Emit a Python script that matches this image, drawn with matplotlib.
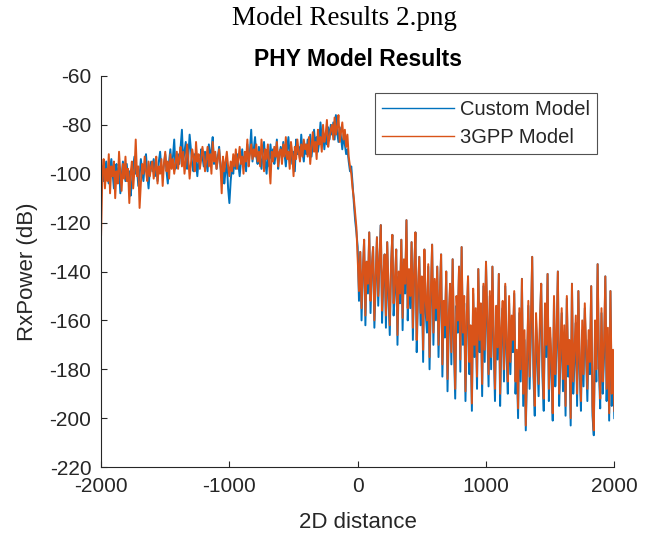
import numpy as np
import matplotlib
matplotlib.use('Agg')
import matplotlib.pyplot as plt

# distance grid (m), one sample every 10 m
distance = np.arange(-2000, 2001, 10)

# Custom model RxPower (dB)
custom_left = [
    -100, -97, -103, -99, -95, -101, -104, -98, -94, -100, -106, -99, -96, -102, -97, -108, -101, -95, -99, -103,
    -96, -102, -99, -109, -104, -97, -93, -100, -98, -105, -101, -94, -99, -103, -96, -92, -100, -106, -98, -95,
    -99, -94, -101, -97, -103, -95, -91, -98, -100, -96, -92, -99, -104, -95, -90, -97, -93, -86, -98, -94,
    -92, -96, -89, -82, -95, -91, -87, -98, -93, -84, -90, -96, -99, -92, -95, -101, -94, -97, -90, -93,
    -97, -91, -95, -99, -88, -94, -90, -85, -96, -92, -98, -93, -89, -97, -101, -94, -104, -99, -95, -106,
    -112, -103, -97, -100, -94, -98, -92, -96, -101, -95, -90, -97, -93, -99, -88, -94, -91, -82, -95, -90,
    -85, -93, -96, -89, -94, -98, -91, -87, -95, -100, -92, -97, -88, -94, -90, -96, -93, -86, -98, -92,
    -89, -94, -87, -92, -97, -90, -85, -93, -88, -96, -91, -99, -86, -92, -89, -94, -84, -91, -95, -88,
    -92, -86, -90, -84, -93, -88, -82, -89, -85, -91, -87, -79, -86, -83, -90, -84, -88, -81, -86, -80,
    -84, -79, -86, -76, -83, -87, -81, -85, -90, -84, -88, -92, -90, -95, -99, -97, -104, -112, -119, -124]
custom_zero = [-130]
custom_right = [
    -152, -132, -160, -141, -127, -162, -136, -149, -124, -157, -139, -130, -163, -145, -126, -154, -135, -121, -161, -144,
    -133, -163, -128, -151, -166, -138, -125, -158, -148, -131, -170, -142, -153, -127, -164, -136, -149, -119, -160, -141,
    -155, -128, -168, -141, -124, -173, -150, -134, -162, -144, -177, -131, -157, -165, -138, -180, -153, -129, -170, -146,
    -160, -138, -175, -152, -133, -183, -156, -167, -140, -189, -163, -146, -178, -135, -171, -192, -154, -165, -138, -181,
    -130, -170, -153, -193, -163, -142, -182, -167, -197, -149, -175, -158, -188, -139, -173, -156, -191, -146, -177, -136,
    -164, -187, -150, -180, -138, -171, -193, -157, -176, -141, -195, -168, -155, -185, -146, -174, -190, -153, -182, -162,
    -173, -149, -190, -177, -200, -157, -185, -143, -195, -168, -205, -180, -154, -188, -165, -134, -183, -199, -160, -175,
    -191, -164, -145, -183, -197, -155, -175, -141, -193, -167, -181, -201, -151, -187, -171, -140, -195, -177, -157, -189,
    -166, -199, -151, -183, -173, -203, -145, -190, -177, -161, -195, -148, -181, -197, -164, -187, -155, -175, -193, -168,
    -182, -146, -199, -207, -164, -185, -137, -180, -196, -157, -190, -175, -142, -193, -167, -201, -148, -195, -177, -200]

# 3GPP model RxPower (dB)
gpp_left = [
    -125, -100, -94, -106, -98, -103, -92, -108, -97, -101, -95, -110, -99, -104, -91, -100, -107, -96, -102, -93,
    -103, -98, -112, -100, -95, -106, -99, -86, -101, -97, -114, -104, -96, -100, -93, -99, -103, -95, -101, -97,
    -95, -102, -98, -93, -104, -97, -100, -94, -105, -96, -91, -99, -95, -102, -92, -98, -94, -100, -96, -91,
    -98, -93, -89, -97, -91, -100, -95, -88, -94, -102, -96, -90, -93, -99, -87, -95, -92, -98, -94, -89,
    -93, -99, -94, -89, -97, -92, -100, -87, -95, -91, -98, -94, -90, -96, -108, -93, -99, -95, -91, -97,
    -101, -95, -99, -92, -97, -90, -98, -94, -89, -96, -93, -100, -91, -95, -86, -97, -92, -88, -94, -90,
    -93, -88, -95, -91, -97, -86, -92, -99, -90, -94, -88, -96, -104, -91, -95, -89, -93, -87, -97, -91,
    -90, -96, -88, -93, -85, -94, -91, -98, -87, -92, -101, -89, -94, -86, -91, -95, -88, -93, -86, -90,
    -88, -93, -85, -96, -89, -83, -91, -87, -94, -82, -88, -85, -91, -80, -87, -84, -78, -89, -85, -82,
    -80, -86, -77, -84, -81, -76, -87, -83, -79, -86, -82, -89, -84, -93, -97, -100, -106, -110, -116, -122]
gpp_zero = [-135]
gpp_right = [
    -148, -132, -155, -140, -127, -158, -136, -145, -124, -152, -138, -130, -160, -142, -126, -150, -135, -121, -156, -141,
    -133, -158, -128, -147, -162, -137, -125, -153, -144, -131, -166, -140, -149, -127, -159, -135, -145, -119, -155, -139,
    -150, -128, -163, -140, -124, -168, -146, -134, -157, -142, -172, -131, -152, -160, -137, -175, -148, -129, -165, -143,
    -155, -138, -170, -149, -133, -178, -152, -162, -140, -184, -158, -145, -173, -135, -166, -188, -150, -160, -138, -176,
    -130, -165, -150, -189, -158, -142, -177, -162, -194, -147, -170, -155, -183, -139, -168, -153, -186, -145, -172, -136,
    -160, -182, -148, -175, -138, -166, -188, -154, -171, -141, -190, -163, -152, -180, -145, -169, -185, -150, -177, -158,
    -168, -148, -185, -172, -196, -155, -180, -143, -190, -164, -203, -175, -152, -183, -160, -134, -178, -195, -157, -170,
    -186, -160, -145, -178, -192, -153, -170, -141, -188, -163, -176, -198, -150, -182, -166, -140, -190, -172, -155, -184,
    -162, -195, -150, -178, -168, -200, -145, -185, -172, -158, -190, -148, -176, -193, -160, -182, -153, -170, -188, -164,
    -177, -146, -195, -205, -160, -180, -137, -175, -192, -155, -185, -170, -142, -188, -163, -198, -148, -190, -172, -197]

custom = custom_left + custom_zero + custom_right
gpp = gpp_left + gpp_zero + gpp_right

plt.rcParams['font.family'] = ['Liberation Sans', 'DejaVu Sans']
plt.rcParams['axes.unicode_minus'] = False
dark = '#262626'

fig = plt.figure(figsize=(6.48, 5.35), dpi=100)
ax = fig.add_axes([0.156, 0.127, 0.792, 0.731])

ax.plot(distance, custom, color='#0072BD', lw=1.4, label='Custom Model')
ax.plot(distance, gpp, color='#D95319', lw=1.4, label='3GPP Model')

ax.set_xlim(-2000, 2000)
ax.set_ylim(-220, -60)
ax.set_xticks([-2000, -1000, 0, 1000, 2000])
ax.set_yticks(np.arange(-220, -59, 20))
ax.tick_params(direction='in', length=4, labelsize=15, colors=dark, width=0.8, pad=7)
for s in ['top', 'right']:
    ax.spines[s].set_visible(False)
for s in ['left', 'bottom']:
    ax.spines[s].set_color(dark)
    ax.spines[s].set_linewidth(0.8)

ax.set_xlabel('2D distance', fontsize=16, color=dark, labelpad=12)
ax.set_ylabel('RxPower (dB)', fontsize=16, color=dark, labelpad=8)
ax.set_title('PHY Model Results', fontsize=16.5, fontweight='bold', color='black', pad=7)

leg = ax.legend(loc='upper right', bbox_to_anchor=(0.967, 0.957), borderaxespad=0,
                fontsize=14.5, frameon=True, fancybox=False, handlelength=3.6,
                handletextpad=0.3, borderpad=0.35, labelspacing=0.45)
leg.get_frame().set_edgecolor(dark)
leg.get_frame().set_linewidth(0.8)
for line in leg.get_lines():
    line.set_linewidth(1.0)
for t in leg.get_texts():
    t.set_color(dark)

fig.text(0.532, 0.966, 'Model Results 2.png', ha='center', va='center',
         fontsize=19.5, family='Liberation Serif')

fig.savefig('out.png', dpi=100)
